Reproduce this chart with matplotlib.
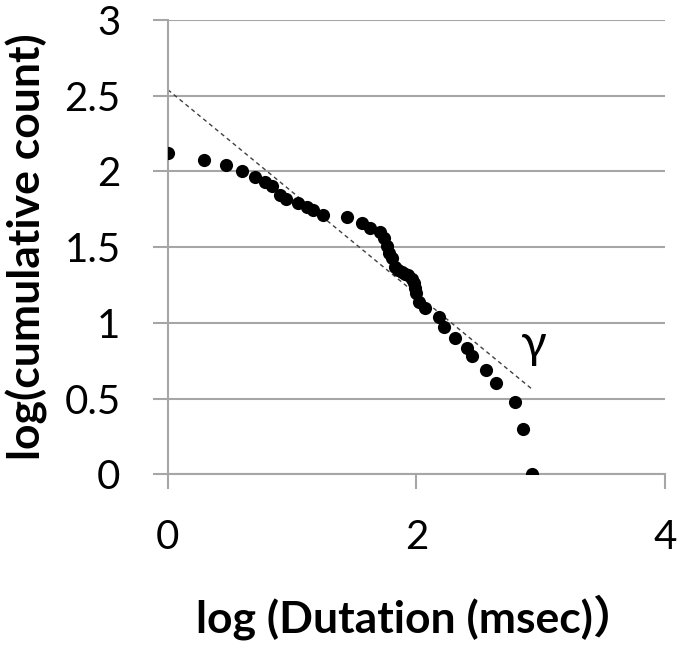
import numpy as np
import matplotlib.pyplot as plt

plt.rcParams['font.family'] = ['Lato', 'Noto Sans CJK JP', 'DejaVu Sans']

# log duration vs log cumulative count
log_dur = [0.0, 0.29, 0.47, 0.60, 0.70, 0.78, 0.84, 0.90, 0.95, 1.05, 1.12, 1.17, 1.25,
           1.44, 1.56, 1.63, 1.71, 1.74, 1.76, 1.78, 1.80, 1.83, 1.85, 1.88, 1.91, 1.93,
           1.96, 1.98, 1.99, 2.00, 2.02, 2.07, 2.18, 2.22, 2.31, 2.41, 2.45, 2.56, 2.64,
           2.79, 2.86, 2.93]
log_cnt = [2.124, 2.075, 2.04, 2.005, 1.965, 1.932, 1.903, 1.845, 1.82, 1.789, 1.767, 1.745, 1.712,
           1.696, 1.657, 1.624, 1.60, 1.56, 1.51, 1.46, 1.426, 1.37, 1.35, 1.337, 1.325, 1.315,
           1.29, 1.26, 1.23, 1.194, 1.139, 1.095, 1.04, 0.973, 0.90, 0.835, 0.78, 0.687, 0.603,
           0.478, 0.301, 0.0]

# fitted power-law line
fit_x = [0.0, 2.94]
fit_y = [2.54, 0.555]

fig = plt.figure(figsize=(6.85, 6.47), dpi=100)
ax = fig.add_axes([0.245, 0.267, 0.726, 0.702])

ax.plot(fit_x, fit_y, ls=(0, (3, 2.5)), color='#404040', lw=1.0, zorder=2)
ax.scatter(log_dur, log_cnt, s=90, color='black', zorder=3, linewidths=0)
ax.text(2.94, 0.77, 'γ', fontsize=34, va='baseline', ha='center')

ax.set_xlim(0, 4)
ax.set_ylim(0, 3)
ax.set_xticks([0, 2, 4])
ax.set_yticks([0, 0.5, 1, 1.5, 2, 2.5, 3])
ax.set_yticklabels(['0', '0.5', '1', '1.5', '2', '2.5', '3'])
ax.yaxis.grid(True, color='#a6a6a6', lw=1.5)
ax.set_axisbelow(True)
for side in ['top', 'right']:
    ax.spines[side].set_visible(False)
for side in ['left', 'bottom']:
    ax.spines[side].set_color('#a6a6a6')
    ax.spines[side].set_linewidth(1.5)
ax.tick_params(axis='both', colors='#a6a6a6', labelcolor='black', labelsize=29,
               length=11, width=1.5)
ax.tick_params(axis='x', pad=21)
ax.tick_params(axis='y', pad=23)

ax.set_ylabel('log(cumulative count)', fontsize=32, fontweight='bold', labelpad=12)
ax.set_xlabel('log (Dutation (msec)）', fontsize=32, fontweight='bold', labelpad=28)

fig.savefig('out.png', dpi=100)
